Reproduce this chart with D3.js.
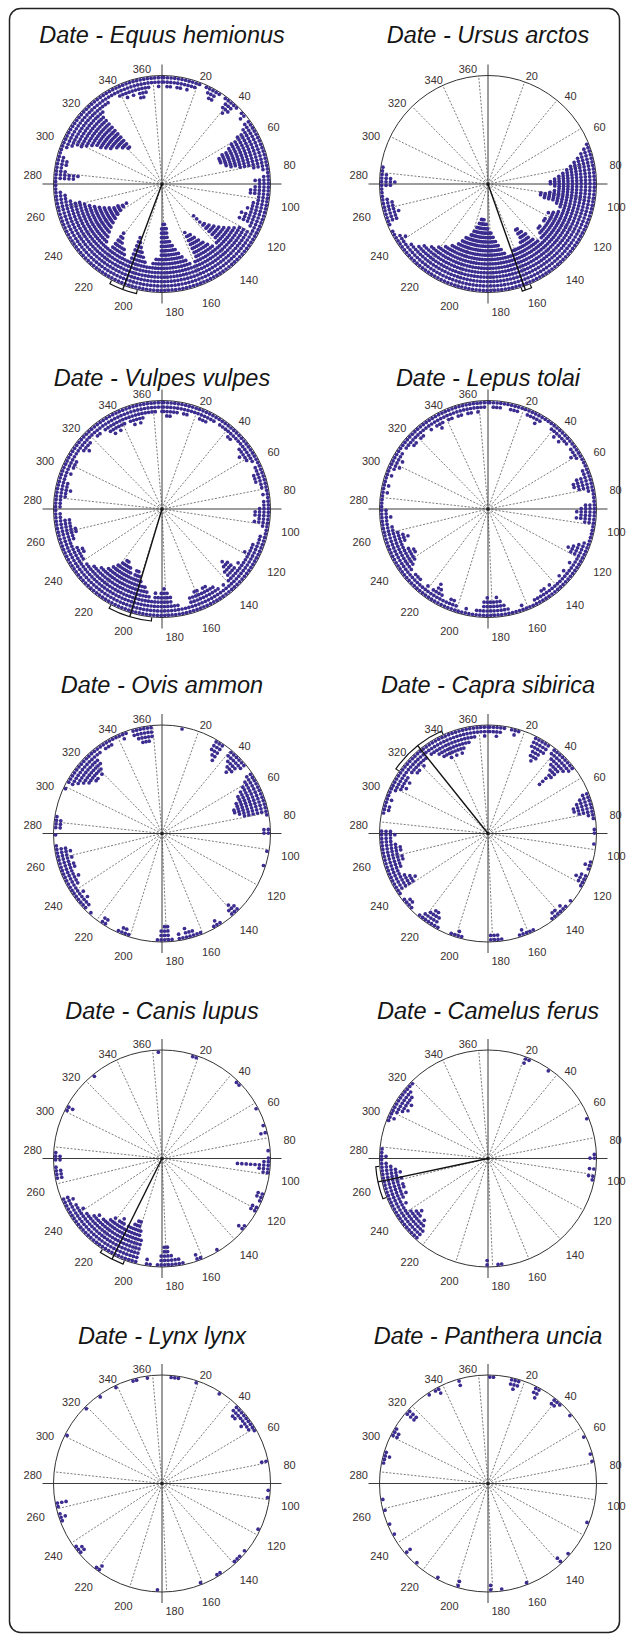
<!DOCTYPE html>
<html>
<head>
<meta charset="utf-8">
<script src="https://cdn.jsdelivr.net/npm/d3@7"></script>
<style>
  body { margin: 0; background: #fff; }
</style>
</head>
<body>
<div id="chart"></div>
<script>
// species panels, row by row (left, right)
const species = ["Equus hemionus", "Ursus arctos", "Vulpes vulpes", "Lepus tolai", "Ovis ammon",
                 "Capra sibirica", "Canis lupus", "Camelus ferus", "Lynx lynx", "Panthera uncia"];

const tickDays = [20, 40, 60, 80, 100, 120, 140, 160, 180, 200, 220, 240, 260, 280, 300, 320, 340, 360];

// dot stack height per 2-day bin (bin i = days 2i..2i+2), 10 bins per group = 20 days
const equus = [
  2,3,3,2,3,3,2,3,2,2,  1,0,1,2,3,3,1,0,1,3,  4,3,1,0,1,2,0,2,3,5,  7,8,10,11,11,11,10,10,9,7,
  4,2,1,2,4,3,4,5,5,3,  3,4,4,5,4,6,5,6,3,2,  5,6,7,8,9,10,11,12,15,7,  6,7,8,9,10,11,12,12,13,6,
  5,6,7,8,9,10,11,12,15,16,  16,15,8,8,7,6,6,7,8,9,  10,11,12,6,6,7,8,8,9,10,  11,6,6,7,8,9,10,11,12,13,
  14,15,16,14,12,11,10,9,8,7,  6,4,3,3,2,1,1,1,5,6,  3,2,3,3,2,1,1,2,3,5,  6,7,9,10,11,11,12,12,13,13,
  14,14,4,3,3,3,2,2,2,3,  3,4,3,4,3,5,5,4,3,2,  2,3,2];
const ursus = [
  0,0,0,0,0,0,0,0,0,0,  0,0,0,0,0,0,0,0,0,0,  0,0,0,0,0,0,0,0,0,0,  0,0,0,0,1,2,3,4,5,6,
  7,8,9,10,11,11,10,9,10,11,  13,13,12,9,8,7,8,9,10,9,  9,10,10,9,9,10,10,9,8,7,  8,9,11,12,13,13,10,9,9,9,
  9,8,8,8,9,10,11,12,13,14,  14,15,16,16,17,17,17,16,15,14,  13,12,12,11,10,9,9,8,8,7,  7,6,6,5,5,4,3,3,2,2,
  3,2,1,1,0,1,3,3,4,3,  3,3,2,1,1,1,3,4,3,2,  1,1,0,0,0,0,0,0,0,0,  0,0,0,0,0,0,0,0,0,0,
  0,0,0,0,0,0,0,0,0,0,  0,0,0,0,0,0,0,0,0,0,  0,0,0];
const vulpes = [
  3,4,4,3,3,2,3,3,2,2,  2,3,3,3,2,2,1,2,2,2,  2,3,3,2,2,2,3,3,4,3,  3,2,1,2,2,3,3,3,2,2,
  1,2,1,2,2,3,4,4,3,4,  2,1,1,2,2,2,3,3,3,4,  3,3,3,4,3,6,7,6,5,3,  2,3,2,3,4,4,5,5,4,5,
  5,4,4,2,2,2,3,3,5,6,  7,6,5,6,4,5,6,7,7,8,  9,10,10,8,9,10,10,11,11,10,  9,8,7,6,6,5,5,4,4,3,
  4,4,5,5,4,3,3,4,4,5,  5,4,4,4,2,2,1,2,2,2,  3,3,4,3,3,2,2,3,2,3,  3,3,2,2,2,3,4,3,3,2,
  2,3,3,2,3,4,5,4,5,4,  4,3,4,5,4,5,4,3,3,3,  3,2,3];
const lepus = [
  1,2,2,2,1,1,2,2,2,1,  1,2,2,2,3,2,1,1,1,2,  2,3,2,3,2,2,1,2,2,3,  2,1,1,1,2,2,4,5,5,4,
  2,1,1,1,3,4,5,4,5,3,  1,1,1,1,1,2,3,4,5,4,  2,2,3,2,2,3,2,3,2,2,  2,3,2,3,3,2,2,2,1,1,
  1,2,1,1,1,2,3,4,5,4,  4,5,4,2,2,1,1,2,1,1,  2,3,3,2,2,3,4,5,3,2,  3,2,2,3,3,3,2,3,4,5,
  5,6,6,5,4,4,5,6,5,4,  3,3,2,2,3,2,2,1,1,1,  1,2,1,2,1,1,2,1,2,3,  2,3,2,2,1,2,2,3,3,2,
  3,3,2,2,3,2,3,4,3,2,  3,3,2,3,3,2,3,3,2,3,  2,2,1];
const ovis = [
  0,0,0,0,0,1,0,0,0,0,  0,0,0,0,0,3,4,5,0,0,  2,3,4,5,4,2,0,0,2,3,  4,5,6,6,7,7,8,8,7,6,
  1,0,0,0,2,2,0,0,0,0,  1,0,0,0,1,0,0,0,0,0,  0,0,0,0,0,0,0,0,2,3,  2,0,0,0,1,2,1,0,0,0,
  1,1,2,2,3,1,2,0,1,4,  4,3,1,0,0,0,0,0,0,0,  1,2,2,1,0,0,0,2,2,0,  0,0,1,0,2,2,3,2,3,2,
  2,3,3,4,3,3,4,4,3,4,  3,4,3,1,0,0,1,0,2,2,  2,1,0,0,0,0,0,0,0,1,  0,2,3,4,5,5,6,6,5,6,
  5,4,2,2,1,2,2,2,1,1,  1,2,1,0,2,3,4,4,4,3,  0,0,0];
const capra = [
  2,2,3,2,1,0,1,2,1,0,  0,0,0,3,5,6,5,3,0,2,  3,4,5,9,6,3,2,0,0,0,  0,0,0,0,2,3,4,5,5,4,
  2,1,0,0,1,1,0,0,1,0,  0,0,0,1,2,1,0,2,3,2,  1,0,0,0,0,1,0,1,2,1,  2,2,1,0,0,0,0,0,1,1,
  1,2,1,0,0,0,0,1,2,2,  2,0,0,0,0,0,0,0,1,2,  1,1,0,0,0,1,3,4,4,3,  2,1,0,0,1,2,2,1,0,1,
  5,6,5,4,3,3,4,4,5,5,  4,5,5,4,3,3,4,3,0,0,  0,0,1,2,2,1,2,1,1,2,  3,4,3,4,3,2,3,4,4,3,
  4,3,3,2,3,3,4,5,5,6,  5,6,5,6,5,4,4,3,3,2,  2,3,2];
const canis = [
  0,0,0,0,0,0,0,0,1,1,  0,0,0,0,0,0,0,0,0,0,  0,0,1,1,0,0,0,0,0,0,  0,1,0,0,0,0,1,0,2,0,
  0,0,0,1,0,1,2,8,3,2,  0,0,0,0,0,2,2,1,0,2,  2,0,0,0,0,1,2,0,0,0,  0,0,0,0,0,1,0,0,0,0,
  1,2,0,0,0,1,2,2,3,5,  5,3,1,0,1,2,0,0,6,8,  10,10,9,8,8,7,8,9,8,7,  8,7,6,6,5,6,5,4,4,3,
  4,3,3,2,3,2,0,0,0,0,  0,2,2,2,1,0,2,2,1,0,  0,0,0,0,0,0,0,0,0,0,  1,2,0,0,0,0,0,0,0,0,
  0,0,1,0,0,0,0,0,0,0,  0,0,0,0,0,0,0,0,0,0,  0,1,0];
const camelus = [
  0,0,0,0,0,0,0,0,0,0,  2,1,0,0,0,0,0,1,0,0,  0,0,0,0,0,0,0,0,0,0,  0,0,0,0,1,0,0,0,0,0,
  0,0,0,0,1,2,0,0,2,0,  2,1,0,0,0,0,0,0,0,0,  0,0,0,0,0,0,0,0,0,0,  0,0,0,0,0,0,0,0,0,0,
  0,0,0,0,0,0,0,1,1,0,  0,2,0,0,0,0,0,0,0,0,  0,0,0,0,0,0,0,0,0,0,  0,0,3,4,5,4,5,6,5,4,
  3,3,4,3,4,5,4,5,5,4,  5,4,5,4,3,2,1,2,1,1,  0,0,0,0,0,0,0,1,2,1,  2,3,4,3,4,3,3,2,1,1,
  0,0,0,0,0,0,0,0,0,0,  0,0,0,0,0,0,0,0,0,0,  0,0,0];
const lynx = [
  0,0,1,1,1,0,0,0,0,1,  0,0,0,0,0,0,1,0,0,0,  0,0,2,3,3,2,2,3,2,2,  1,0,0,0,0,0,0,0,0,2,
  0,0,0,0,0,0,0,1,0,1,  0,0,0,0,0,0,0,0,1,0,  0,0,0,0,0,1,0,1,1,1,  0,0,0,0,1,1,0,0,0,0,
  1,0,0,0,0,0,0,0,0,0,  0,0,1,0,0,0,0,0,0,0,  0,0,0,0,0,0,0,0,0,2,  1,0,0,0,0,0,2,2,1,0,
  0,0,0,0,0,0,1,2,1,0,  1,3,0,0,0,0,0,0,0,0,  0,0,0,0,0,0,0,0,0,0,  1,0,0,0,0,0,0,0,0,1,
  0,0,0,0,1,0,0,0,0,1,  0,0,0,0,1,1,0,0,1,0,  0,0,0];
const panthera = [
  1,1,0,0,0,0,2,3,2,0,  0,0,0,2,3,0,0,0,0,2,  2,1,0,0,0,1,0,0,0,0,  0,0,1,0,0,0,0,1,0,1,
  0,0,0,0,0,0,0,0,0,0,  0,0,0,0,0,0,1,0,0,0,  0,0,0,0,0,0,1,0,0,2,  0,0,0,0,0,0,0,0,0,0,
  1,0,0,0,0,0,0,1,0,0,  2,0,0,0,0,0,0,0,0,2,  0,0,0,0,0,1,0,0,0,0,  0,0,1,0,0,0,2,0,0,0,
  0,0,1,0,0,1,0,0,0,1,  0,0,1,0,0,0,0,0,0,0,  0,0,1,1,2,1,0,0,0,0,  2,2,1,0,0,0,0,3,3,0,
  0,0,0,0,0,1,0,1,2,0,  0,0,0,0,2,0,0,0,0,0,  0,0,0];

const stacks = [equus, ursus, vulpes, lepus, ovis, capra, canis, camelus, lynx, panthera];

// mean direction and its confidence interval, in days (null = not drawn)
const meanDays = [203.2, 162.8, 199.4, null, null, 325.8, 209.3, 261.6, null, null];
const ciLow    = [195.8, 159.4, 188.0, null, null, 309.3, 203.0, 252.5, null, null];
const ciHigh   = [210.5, 164.5, 210.9, null, null, 340.3, 216.2, 269.5, null, null];

const W = 627, H = 1640;
const colX = [162, 488];
const rowY = [184, 509, 833.5, 1158.5, 1483.5];
const titleY = [43, 386, 693, 1019, 1344];
const R = 108.5;
const dotColor = "#3b2c8f";

const svg = d3.select("#chart").append("svg")
  .attr("width", W)
  .attr("height", H);

svg.append("rect")
  .attr("x", 9.5).attr("y", 8.5)
  .attr("width", 610).attr("height", 1624)
  .attr("rx", 11)
  .attr("fill", "none")
  .attr("stroke", "#222")
  .attr("stroke-width", 1.5);

const angle = d3.scaleLinear().domain([0, 365]).range([0, 2 * Math.PI]);
const stackR = d3.scaleLinear().domain([0, 1]).range([R - 2.1, R - 2.1 - 4.4]);
const polar = (a, r) => [r * Math.sin(a), -r * Math.cos(a)];

stacks.forEach((bins, i) => {
  const cx = colX[i % 2], cy = rowY[Math.floor(i / 2)];

  svg.append("text")
    .attr("x", cx)
    .attr("y", titleY[Math.floor(i / 2)])
    .attr("text-anchor", "middle")
    .attr("font-family", "Liberation Sans, Arial, sans-serif")
    .attr("font-style", "italic")
    .attr("font-size", 23.5)
    .attr("fill", "#151515")
    .text("Date - " + species[i]);

  const g = svg.append("g").attr("transform", `translate(${cx},${cy})`);

  // dashed spokes
  g.selectAll(".spoke")
    .data(tickDays)
    .enter().append("line")
    .attr("class", "spoke")
    .attr("x1", 0).attr("y1", 0)
    .attr("x2", d => polar(angle(d), R)[0])
    .attr("y2", d => polar(angle(d), R)[1])
    .attr("stroke", "#444")
    .attr("stroke-width", 0.7)
    .attr("stroke-dasharray", "2,1.6");

  g.append("circle")
    .attr("r", R)
    .attr("fill", "none")
    .attr("stroke", "#333")
    .attr("stroke-width", 1);

  // cross hair
  g.append("line")
    .attr("x1", -R - 11).attr("x2", R + 11)
    .attr("y1", 0).attr("y2", 0)
    .attr("stroke", "#3a3a3a").attr("stroke-width", 1);
  g.append("line")
    .attr("y1", -R - 11).attr("y2", R + 11)
    .attr("x1", 0).attr("x2", 0)
    .attr("stroke", "#3a3a3a").attr("stroke-width", 1);

  g.append("circle").attr("r", 1.6).attr("fill", "#222");

  // stacked dots
  const dots = bins.flatMap((n, b) => d3.range(n).map(k => ({ day: 2 * b + 1, k })));
  g.selectAll(".dot")
    .data(dots)
    .enter().append("circle")
    .attr("class", "dot")
    .attr("cx", d => polar(angle(d.day), stackR(d.k))[0])
    .attr("cy", d => polar(angle(d.day), stackR(d.k))[1])
    .attr("r", 1.85)
    .attr("fill", dotColor);

  // mean vector with confidence bracket
  if (meanDays[i] != null) {
    const [mx, my] = polar(angle(meanDays[i]), R + 4);
    g.append("line")
      .attr("x1", 0).attr("y1", 0)
      .attr("x2", mx).attr("y2", my)
      .attr("stroke", "#111").attr("stroke-width", 1.4);

    const a0 = angle(ciLow[i]), a1 = angle(ciHigh[i]);
    const p = d3.path();
    const s0 = polar(a0, R + 0.5), e0 = polar(a0, R + 4), s1 = polar(a1, R + 0.5);
    p.moveTo(s0[0], s0[1]);
    p.lineTo(e0[0], e0[1]);
    p.arc(0, 0, R + 4, a0 - Math.PI / 2, a1 - Math.PI / 2);
    p.lineTo(s1[0], s1[1]);
    g.append("path")
      .attr("d", p.toString())
      .attr("fill", "none")
      .attr("stroke", "#111")
      .attr("stroke-width", 1.2);
  }

  // day labels
  g.selectAll(".tick")
    .data(tickDays)
    .enter().append("text")
    .attr("class", "tick")
    .attr("x", d => {
      const a = angle(d);
      let x = 130 * Math.sin(a);
      if (d === 360) x -= 9;
      if (d === 180) x += 7;
      return x;
    })
    .attr("y", d => {
      const c = Math.cos(angle(d));
      return (c > 0 ? -119 : -124) * c + 4;
    })
    .attr("text-anchor", "middle")
    .attr("dominant-baseline", "central")
    .attr("font-family", "Liberation Sans Narrow, Liberation Sans, Arial, sans-serif")
    .attr("font-size", 11)
    .attr("fill", "#3a3030")
    .text(d => d);
});
</script>
</body>
</html>
